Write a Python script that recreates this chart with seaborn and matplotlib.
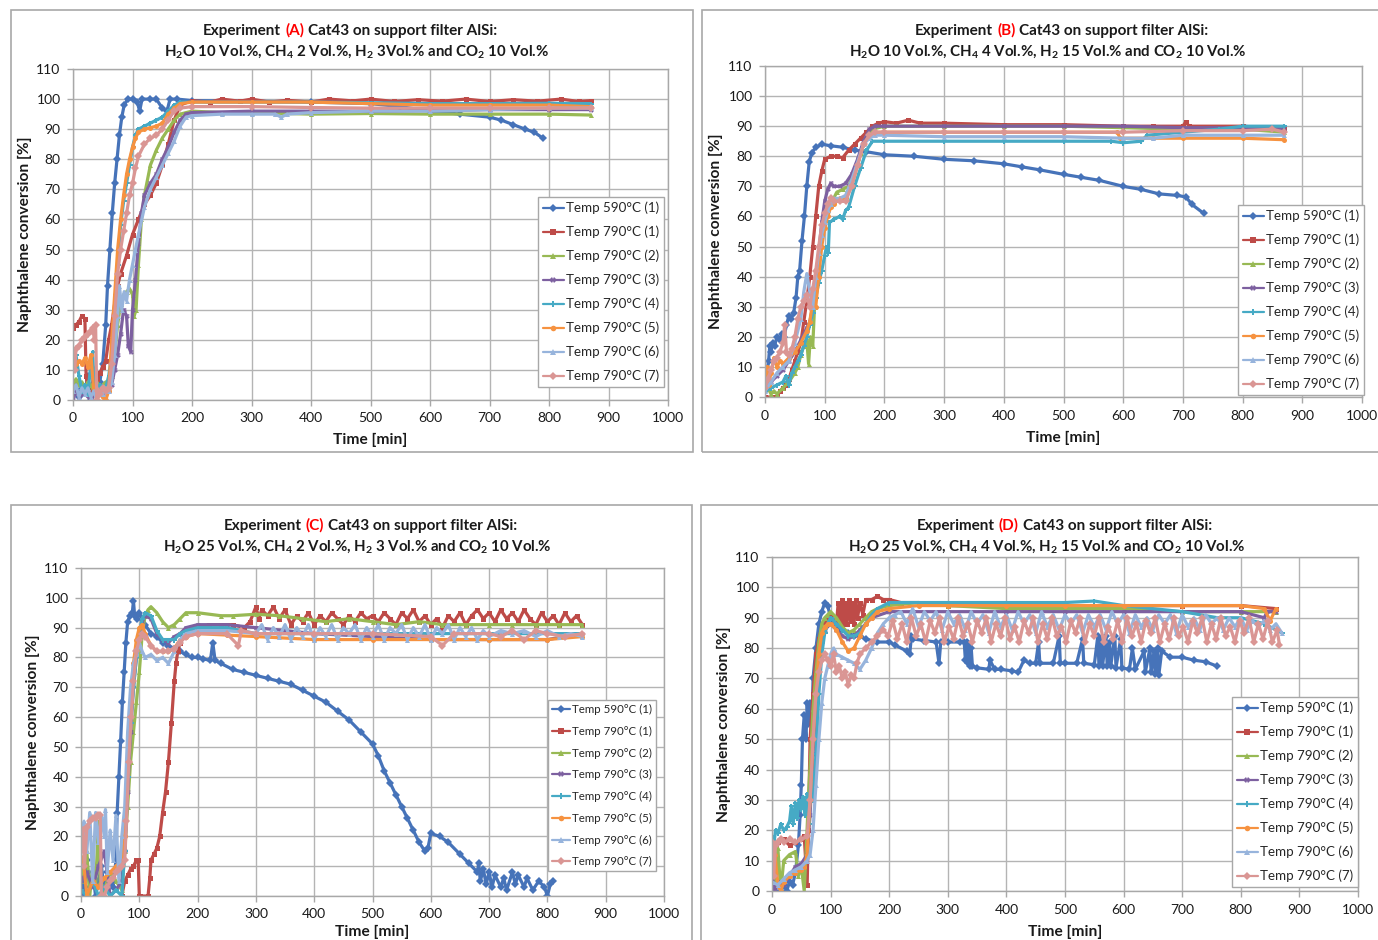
import pandas as pd
import seaborn as sns
import matplotlib.pyplot as plt
from matplotlib.lines import Line2D
from matplotlib.patches import Rectangle

W, H = 1378, 940

# values: (time [min], naphthalene conversion [%])

# ---- Experiment A ----
A_590_1 = [(0,2),(5,6),(10,1),(15,4),(20,3),(25,8),(30,0),(35,10),(40,2),(45,6),(50,12),(55,25),(58,38),(62,50),
           (66,62),(70,72),(74,80),(78,88),(82,94),(86,98),(92,100),(100,100),(108,99),(112,96),(116,100),(130,100),
           (140,100),(150,97),(158,96),(163,100),(175,100),(200,99.5),(300,99.3),(400,99),(500,98.5),(550,97.5),
           (600,96),(650,95),(700,94),(720,93),(740,91.5),(760,90),(775,89),(790,87)]
A_790_1 = [(0,24),(5,25),(10,26),(15,28),(20,27),(22,8),(25,4),(30,3),(35,5),(40,7),(45,9),(50,11),(55,13),(60,20),
           (65,25),(70,32),(75,38),(80,42),(90,48),(100,55),(110,60),(120,65),(130,68),(140,72),(150,78),(160,85),
           (170,93),(180,98),(200,99.5),(230,99),(250,100),(280,99.3),(300,100),(330,99),(360,99.6),(400,99),
           (430,100),(470,99.4),(500,100),(540,99.2),(580,99.8),(620,99.3),(660,100),(700,99.2),(740,99.8),
           (780,99.3),(820,100),(850,99.2),(870,99.5)]
A_790_2 = [(0,5),(5,7),(10,5),(15,6),(20,4),(25,6),(30,5),(35,3),(40,6),(45,4),(50,5),(55,6),(60,5),(65,8),(70,15),
           (75,25),(80,32),(85,35),(90,36),(95,37),(100,35),(103,28),(106,30),(110,45),(115,60),(120,68),(130,78),
           (140,83),(150,87),(160,90),(170,93),(180,95),(200,96),(250,95.5),(300,95.5),(400,95),(500,95.2),
           (600,95),(700,95),(800,95),(870,94.7)]
A_790_3 = [(0,0),(5,3),(10,1),(20,2),(30,0),(40,3),(50,2),(60,3),(65,5),(70,10),(75,15),(80,22),(85,30),(90,28),
           (93,18),(97,16),(100,30),(105,40),(110,52),(115,62),(120,68),(130,72),(140,75),(150,80),(160,84),
           (170,89),(180,93),(190,95),(200,95.5),(300,96),(400,96),(500,96),(600,96.2),(700,96.5),(800,96.5),
           (870,96.5)]
A_790_4 = [(0,13),(5,15),(10,8),(15,3),(20,5),(25,2),(30,12),(33,16),(36,3),(40,2),(45,5),(50,3),(55,4),(60,8),
           (65,15),(70,28),(75,45),(80,58),(85,66),(90,72),(95,78),(100,84),(105,88),(110,90),(120,91),(130,92),
           (140,93),(150,94),(160,96),(170,98),(180,99),(200,99),(300,99),(400,99),(500,98.8),(600,98.5),
           (700,98.5),(800,98.6),(870,98.5)]
A_790_5 = [(0,10),(5,12),(10,13),(15,12),(20,14),(25,11),(30,15),(35,3),(40,0),(45,2),(50,1),(55,0),(60,3),(65,20),
           (70,35),(75,50),(80,60),(85,68),(90,75),(95,80),(100,84),(105,87),(110,89),(120,90),(130,90.5),
           (140,91),(150,92),(160,95),(170,97),(180,98.5),(200,99),(300,99),(400,99),(500,98.5),(600,98),
           (700,98),(800,98),(870,97.5)]
A_790_6 = [(0,3),(5,5),(10,1),(15,4),(20,2),(25,4),(30,1),(35,3),(40,0),(45,3),(50,2),(55,4),(60,3),(65,6),(70,15),
           (75,28),(78,38),(82,30),(86,36),(90,33),(95,40),(100,45),(105,50),(110,55),(120,64),(130,70),(140,74),
           (150,78),(160,82),(170,86),(180,91),(190,94),(200,94.5),(250,95),(300,95),(340,95),(350,94),(360,95),
           (400,95.5),(500,96),(600,96),(700,96.5),(800,97),(870,97)]
A_790_7 = [(0,16),(3,10),(5,17),(10,18),(15,20),(20,21),(25,22),(30,23),(33,24),(36,20),(38,25),(40,0),(42,3),
           (45,2),(50,4),(55,3),(60,4),(65,12),(70,28),(75,42),(80,50),(85,56),(90,62),(95,68),(100,72),(105,77),
           (110,81),(120,85),(130,87),(140,88),(150,90),(160,93),(170,96),(180,97),(200,97.5),(300,97.5),
           (400,97.2),(500,97),(600,97),(700,97),(800,97),(870,97)]

# ---- Experiment B ----
B_590_1 = [(0,2),(3,8),(6,12),(8,17),(10,15),(13,18),(16,17),(20,20),(25,19),(28,21),(32,20),(36,24),(40,27),
           (44,26),(48,28),(52,33),(55,40),(58,42),(62,52),(66,60),(70,70),(74,78),(78,81),(85,83),(95,84),
           (110,83.5),(130,83),(150,82),(170,81.5),(200,80.5),(250,80),(300,79),(350,78.5),(400,77.5),(430,76.5),
           (460,75.5),(500,74),(530,73),(560,72),(600,70),(630,69),(660,67.5),(690,67),(705,66.5),(715,64),(735,61)]
B_790_1 = [(0,0),(15,0),(20,0),(25,2),(30,3),(35,4),(40,6),(45,9),(50,12),(55,15),(60,18),(65,25),(70,32),(75,40),
           (80,50),(85,60),(90,70),(95,75),(100,79),(110,80),(120,80),(130,79.5),(140,82),(150,84),(160,86),
           (170,88),(180,90),(190,91),(200,91.5),(220,91),(240,92),(260,91),(300,91),(400,90.5),(500,90.5),
           (600,90),(650,90),(700,90),(705,91.5),(710,90),(800,90),(870,89)]
B_790_2 = [(0,5),(5,3),(10,1),(15,2),(20,1),(30,3),(40,5),(50,8),(55,10),(60,14),(65,17),(70,19),(73,11),(76,20),
           (80,17),(83,30),(88,40),(92,48),(96,55),(100,59),(105,62),(110,64),(115,66),(120,68),(130,69),(140,70),
           (150,75),(160,81),(170,86),(180,89),(200,90),(300,90),(400,90),(500,90),(600,89.5),(700,89),(800,89),
           (870,88)]
B_790_3 = [(0,3),(10,5),(20,7),(30,9),(40,12),(50,15),(60,19),(70,23),(75,25),(80,30),(85,38),(90,48),(95,58),
           (100,65),(105,69),(110,71),(115,70),(125,70),(135,71),(145,74),(155,79),(165,85),(175,89),(185,90),
           (200,90),(300,90),(400,90),(500,90),(600,90),(700,89.5),(800,89.5),(870,89)]
B_790_4 = [(0,2),(10,3),(20,4),(30,5),(35,7),(40,4),(45,8),(50,10),(55,12),(60,14),(65,17),(70,20),(75,24),(80,28),
           (85,33),(90,38),(95,42),(100,47),(103,50),(106,48),(108,58),(115,59),(125,60),(130,59),(135,62),
           (140,63),(150,70),(160,76),(170,82),(180,85),(200,85),(300,85),(400,85),(500,85),(580,85),(600,84.5),
           (630,85),(640,87),(700,88),(760,89),(800,90),(870,90)]
B_790_5 = [(0,6),(3,10),(6,4),(10,8),(15,13),(20,10),(25,12),(30,11),(40,13),(50,15),(60,18),(70,22),(75,25),
           (80,32),(85,30),(90,40),(95,50),(100,56),(105,60),(110,63),(115,64),(125,66),(135,66),(145,70),
           (155,77),(165,84),(175,87),(185,88),(200,88),(300,88),(400,88),(500,88),(590,88),(595,86),(650,86),
           (700,86),(800,86),(870,85.5)]
B_790_6 = [(0,2),(10,5),(20,8),(30,10),(40,12),(50,18),(60,26),(65,35),(70,41),(75,35),(80,30),(85,40),(90,48),
           (95,54),(100,58),(105,62),(110,64),(115,66),(125,66),(135,67),(145,72),(155,78),(165,84),(175,86),
           (185,87),(200,87),(300,86.5),(400,86.5),(500,86.5),(600,86),(650,86),(700,87),(800,87),(870,87)]
B_790_7 = [(0,3),(5,6),(10,9),(15,12),(20,13),(25,15),(30,18),(33,24),(36,15),(40,14),(45,16),(50,20),(55,26),
           (60,30),(65,32),(70,34),(75,30),(80,36),(85,42),(90,50),(95,57),(100,61),(105,64),(110,66),(115,65),
           (125,65),(135,65),(145,70),(155,77),(165,84),(175,87),(185,88),(200,88),(300,88),(400,88),(500,88),
           (600,88),(700,88.5),(800,88.5),(850,89),(870,88)]

# ---- Experiment C ----
C_590_1 = [(0,8),(5,0),(10,12),(15,3),(20,8),(25,0),(30,5),(35,10),(40,2),(45,8),(50,5),(55,3),(60,12),(62,28),
           (65,40),(68,52),(71,65),(74,75),(77,85),(80,92),(84,94),(88,95),(90,99),(92,94),(96,93),(100,95),
           (105,93),(110,91),(120,88),(130,87),(140,85),(150,84),(160,83),(170,82),(180,81),(190,80),(200,80),
           (210,79.5),(222,79),(226,85),(230,79),(240,78),(260,76),(280,75),(300,74),(320,73),(340,72),(360,71),
           (380,69),(400,67),(420,65),(440,62),(460,59),(480,55),(500,51),(510,47),(520,42),(530,38),(540,34),
           (550,30),(560,26),(570,22),(580,18),(590,15),(595,16),(600,21),(615,20),(630,18),(650,14),(665,11),
           (680,8),(682,11),(685,5),(690,9),(695,4),(700,8),(705,3),(710,7),(720,3),(725,6),(730,2),(740,8),
           (745,4),(750,7),(760,3),(765,6),(775,2),(785,5),(795,3),(800,0),(805,4),(810,5)]
C_790_1 = [(70,0),(75,5),(80,7),(85,9),(90,10),(95,12),(98,12),(100,0),(102,0),(115,0),(118,6),(120,12),(125,14),
           (130,16),(135,20),(140,28),(145,35),(150,45),(155,58),(160,72),(163,78),(166,82),(170,85),(180,88),
           (190,90),(200,90),(220,91),(240,91),(260,91),(280,90),(290,92),(300,97),(305,93),(310,96),(320,94),
           (330,97),(340,93),(350,96),(360,91),(370,94),(380,92),(390,95),(400,91),(410,94),(420,92),(430,95),
           (440,93),(450,91),(460,94),(470,92),(480,95),(490,93),(500,94),(510,92),(520,95),(530,93),(540,91),
           (550,95),(560,93),(570,96),(580,92),(590,94),(600,91),(610,93),(620,90),(630,94),(640,92),(650,95),
           (660,91),(670,94),(680,96),(690,93),(700,95),(710,92),(720,96),(730,93),(740,95),(750,92),(760,96),
           (770,93),(780,91),(790,95),(800,92),(810,94),(820,91),(830,95),(840,92),(850,94),(860,91)]
C_790_2 = [(0,5),(10,15),(15,0),(20,10),(25,3),(30,25),(33,5),(40,2),(50,8),(60,5),(70,2),(75,15),(80,30),(85,45),
           (90,55),(95,65),(100,75),(105,88),(110,94),(115,96),(120,97),(130,95),(140,92),(150,90),(160,91),
           (170,93),(180,95),(200,95),(240,94),(260,94),(300,94.5),(340,94),(380,93),(420,92),(460,93),(500,92),
           (540,91),(580,92),(620,91),(660,91),(700,91),(740,91),(780,91),(820,91),(860,91)]
C_790_3 = [(0,5),(10,8),(20,3),(30,10),(40,15),(50,0),(60,2),(70,5),(75,15),(80,35),(85,55),(90,70),(95,80),
           (100,88),(105,92),(110,94),(120,93),(130,88),(140,86),(150,85),(160,87),(170,88),(180,90),(200,91),
           (250,91),(300,90),(400,88),(500,87),(600,86),(700,86),(800,86),(860,88)]
C_790_4 = [(0,2),(10,0),(20,5),(30,0),(40,3),(50,0),(60,2),(70,0),(75,15),(80,40),(85,58),(90,70),(95,80),
           (100,88),(105,93),(110,95),(120,94),(130,89),(140,86),(150,86),(160,86),(170,88),(180,89),(200,90),
           (250,90),(300,88),(400,88),(500,88),(600,88),(700,88),(800,88),(860,88)]
C_790_5 = [(0,13),(5,10),(10,0),(20,5),(30,3),(40,6),(50,8),(60,10),(70,12),(75,20),(80,45),(85,65),(90,78),
           (95,86),(100,90),(105,91),(110,88),(120,84),(130,82),(140,82),(150,82),(160,83),(170,86),(180,87),
           (200,88),(250,87.5),(300,87),(400,86),(500,86),(600,86),(700,86),(800,86),(860,87)]
C_790_6 = [(0,20),(5,25),(10,15),(15,28),(20,5),(25,28),(30,18),(35,27),(40,20),(42,29),(45,8),(50,22),(55,12),
           (60,27),(65,5),(70,20),(75,30),(80,55),(85,70),(90,78),(95,81),(100,85),(105,82),(110,80),(120,81),
           (130,79),(140,80),(150,78),(160,82),(170,86),(180,88),(200,89),(250,89),(300,88),(310,91),(320,86),
           (330,90),(340,87),(350,91),(360,86),(370,90),(380,87),(390,91),(400,86),(410,90),(420,87),(430,91),
           (440,86),(450,90),(460,88),(470,91),(480,86),(490,90),(500,87),(510,91),(520,86),(530,90),(540,88),
           (550,91),(560,86),(570,90),(580,87),(590,91),(600,86),(610,90),(620,88),(630,91),(640,86),(650,90),
           (660,87),(670,90),(680,86),(690,89),(700,87),(720,89),(740,88),(760,89),(780,87),(800,89),(820,87),
           (840,88),(860,87)]
C_790_7 = [(0,15),(3,22),(6,10),(10,23),(15,25),(20,26),(25,26),(30,27),(33,27),(35,0),(40,0),(45,3),(50,5),
           (55,6),(60,8),(65,9),(70,10),(75,12),(78,25),(82,45),(86,60),(90,72),(95,82),(100,86),(105,88),
           (110,87),(120,84),(130,82),(140,82),(150,82),(160,83),(170,85),(180,87),(200,88),(250,88),(270,84),
           (275,89),(300,88),(400,88),(500,88),(600,87),(620,84),(640,88),(700,88),(720,87),(740,89),(760,86),
           (780,89),(800,88),(830,87),(860,88)]

# ---- Experiment D ----
D_590_1 = [(0,5),(5,0),(10,3),(15,0),(20,2),(25,0),(30,3),(35,2),(40,6),(45,15),(48,25),(50,35),(52,50),(55,58),
           (58,50),(60,62),(62,55),(65,62),(68,50),(70,70),(75,80),(80,88),(85,92),(90,95),(95,94),(100,90),
           (105,88),(110,87),(120,86),(130,85),(140,84),(150,84),(160,83),(180,82),(200,82),(210,81),(230,79),
           (235,78),(238,84),(240,83),(260,82.5),(280,82),(285,75),(288,82),(300,82),(320,82),(328,82),(330,76),
           (332,82),(334,75),(336,81),(338,74),(340,80),(342,74),(350,73.5),(370,73),(372,76),(380,73),(390,73),
           (410,72.5),(420,72),(430,76),(440,75),(450,75),(455,82),(457,75),(480,75),(490,84),(492,75),(500,75),
           (520,75),(530,83),(532,75),(550,74.5),(556,84),(558,74),(562,83),(564,74),(570,84),(572,74),(576,82),
           (578,74),(585,84),(587,73.5),(595,83),(597,73.5),(610,73),(615,80),(620,73),(635,79),(637,72),(645,80),
           (647,72),(652,79),(654,71.5),(658,80),(660,71),(665,79),(680,77),(700,77),(720,76),(740,75.5),(760,74)]
D_790_1 = [(0,15),(5,10),(10,16),(20,17),(30,15),(40,16),(50,17),(55,18),(60,2),(62,20),(65,50),(70,65),(75,78),
           (80,83),(85,87),(90,88),(95,90),(100,91),(105,89),(110,88),(113,95),(116,88),(119,96),(122,88),
           (125,95),(128,88),(131,96),(134,89),(137,95),(140,88),(143,96),(146,90),(150,95),(155,91),(160,96),
           (170,96),(180,97),(190,96),(200,96),(220,95),(250,95),(300,94),(400,94),(500,94),(600,94),(700,94),
           (800,94),(860,93)]
D_790_2 = [(0,12),(5,3),(10,14),(15,0),(20,10),(30,12),(40,13),(45,5),(50,8),(55,0),(58,12),(62,30),(66,45),
           (70,60),(75,72),(80,82),(85,88),(90,90),(95,91),(100,92),(110,90),(120,87),(130,85),(140,86),(150,88),
           (160,90),(170,92),(180,93),(200,94),(250,95),(300,94),(400,93),(500,93),(600,93),(700,92),(800,92),
           (860,92)]
D_790_3 = [(0,5),(5,0),(10,3),(20,2),(30,5),(40,8),(50,9),(60,12),(65,25),(70,45),(75,62),(80,75),(85,82),
           (90,86),(100,88),(110,86),(120,84),(130,83),(140,84),(150,86),(160,88),(170,90),(200,92),(300,92),
           (400,92),(500,92),(600,92),(700,92),(800,92),(840,90),(845,92),(860,92)]
D_790_4 = [(0,18),(3,15),(6,20),(10,19),(15,22),(20,20),(25,21),(30,23),(33,28),(36,22),(40,29),(43,24),(46,30),
           (50,27),(53,31),(56,25),(60,32),(63,22),(66,36),(70,30),(75,45),(80,65),(85,78),(90,85),(95,88),
           (100,90),(110,88),(120,86),(130,84),(140,84),(150,85),(160,88),(170,91),(180,93),(200,95),(250,95),
           (300,95),(400,95),(500,95),(550,95.5),(600,94),(700,92),(760,90),(800,90),(840,88),(860,86),(870,85)]
D_790_5 = [(0,10),(5,12),(10,2),(15,0),(20,3),(30,5),(40,6),(50,7),(55,8),(60,12),(65,30),(70,50),(75,65),
           (80,78),(85,85),(90,87),(95,88),(100,88),(110,86),(120,82),(130,79),(140,80),(150,84),(160,88),
           (170,90),(180,92),(200,93),(250,94),(300,94),(400,94),(500,94),(600,94),(700,94),(800,94),(840,93),
           (850,89),(860,93)]
D_790_6 = [(0,3),(10,2),(20,4),(30,6),(40,7),(50,8),(60,10),(65,12),(70,20),(75,35),(80,50),(85,62),(90,70),
           (95,74),(100,78),(105,80),(110,78),(120,77),(130,76),(140,75),(150,73),(160,76),(170,80),(180,85),
           (190,88),(200,90),(210,91),(220,92),(230,88),(240,93),(250,87),(260,92),(270,89),(280,92),(290,86),
           (300,92),(310,88),(320,91),(330,86),(340,92),(350,88),(360,91),(370,85),(380,92),(390,87),(400,91),
           (410,86),(420,92),(430,88),(440,91),(450,85),(460,92),(470,87),(480,91),(490,86),(500,91),(510,88),
           (520,91),(530,85),(540,91),(550,87),(560,91),(570,86),(580,92),(590,88),(600,91),(610,85),(620,91),
           (630,87),(640,90),(650,86),(660,91),(670,88),(680,91),(690,85),(700,91),(710,87),(720,90),(730,86),
           (740,91),(750,88),(760,90),(770,86),(780,90),(790,87),(800,90),(810,86),(820,89),(830,87),(840,89),
           (850,86),(860,88),(870,85)]
D_790_7 = [(0,16),(3,5),(6,15),(10,16),(15,17),(20,16),(30,17),(40,16),(50,17),(60,18),(65,30),(70,50),(75,65),
           (80,72),(85,76),(90,78),(95,76),(100,74),(105,78),(110,72),(115,74),(120,70),(125,72),(130,68),
           (135,71),(140,70),(145,75),(150,78),(160,80),(170,82),(180,84),(190,86),(198,84),(206,89),(214,83),
           (222,88),(230,82),(238,90),(246,84),(254,88),(262,82),(270,89),(278,85),(286,90),(294,82),(302,87),
           (310,83),(318,90),(326,84),(334,88),(342,82),(350,89),(358,85),(366,90),(374,82),(382,88),(390,84),
           (398,90),(406,83),(414,87),(422,82),(430,89),(438,85),(446,90),(454,82),(462,88),(470,83),(478,90),
           (486,84),(494,87),(502,82),(510,89),(518,85),(526,90),(534,82),(542,88),(550,84),(558,90),(566,82),
           (574,87),(582,83),(590,89),(598,82),(606,90),(614,84),(622,88),(630,82),(638,89),(646,85),(654,90),
           (662,82),(670,88),(678,83),(686,90),(694,84),(702,87),(710,82),(718,89),(726,85),(734,90),(742,82),
           (750,88),(758,83),(766,90),(774,84),(782,87),(790,82),(798,89),(806,85),(814,90),(822,82),(830,88),
           (838,83),(846,89),(854,82),(862,86),(866,81)]

labels = ["Temp 590°C (1)", "Temp 790°C (1)", "Temp 790°C (2)", "Temp 790°C (3)",
          "Temp 790°C (4)", "Temp 790°C (5)", "Temp 790°C (6)", "Temp 790°C (7)"]
letters = ["A", "B", "C", "D"]
subtitles = [
    r"H$_\mathbf{2}$O 10 Vol.%, CH$_\mathbf{4}$ 2 Vol.%, H$_\mathbf{2}$ 3Vol.% and CO$_\mathbf{2}$ 10 Vol.%",
    r"H$_\mathbf{2}$O 10 Vol.%, CH$_\mathbf{4}$ 4 Vol.%, H$_\mathbf{2}$ 15 Vol.% and CO$_\mathbf{2}$ 10 Vol.%",
    r"H$_\mathbf{2}$O 25 Vol.%, CH$_\mathbf{4}$ 2 Vol.%, H$_\mathbf{2}$ 3 Vol.% and CO$_\mathbf{2}$ 10 Vol.%",
    r"H$_\mathbf{2}$O 25 Vol.%, CH$_\mathbf{4}$ 4 Vol.%, H$_\mathbf{2}$ 15 Vol.% and CO$_\mathbf{2}$ 10 Vol.%",
]
x_ticks = list(range(0, 1001, 100))
y_ticks = list(range(0, 111, 10))

panels = [
    [A_590_1, A_790_1, A_790_2, A_790_3, A_790_4, A_790_5, A_790_6, A_790_7],
    [B_590_1, B_790_1, B_790_2, B_790_3, B_790_4, B_790_5, B_790_6, B_790_7],
    [C_590_1, C_790_1, C_790_2, C_790_3, C_790_4, C_790_5, C_790_6, C_790_7],
    [D_590_1, D_790_1, D_790_2, D_790_3, D_790_4, D_790_5, D_790_6, D_790_7],
]

# styling / layout (pixels in the 1378x940 canvas)
colors = ["#4673B9", "#BE4B48", "#98B954", "#7D60A0", "#46AAC5", "#F69240", "#97B4DC", "#DA9694"]
marks = ["D", "s", "^", "X", "P", "o", "^", "D"]
axes_px = [(73, 69, 668, 400), (765, 66, 1362, 397), (81, 568, 664, 896), (772, 557, 1358, 891)]
frames_px = [(11, 10, 693, 452), (702, 10, 1395, 452), (11, 505, 692, 955), (701, 505, 1395, 955)]
title1_px = [(203, 35), (915, 35), (224, 530), (917, 530)]
title2_px = [(357, 56), (1048, 56), (357, 551), (1047, 551)]
legend_px = [(538, 197, 9.6, 0.86), (1238, 205, 9.6, 0.86), (548, 700, 8.3, 0.93), (1232, 697, 9.6, 0.86)]
ylabel_x = [25, 716, 33, 724]
xlabel_y = [440, 438, 932, 932]

sns.set_theme(style="white")
plt.rcParams['font.family'] = ['Lato', 'DejaVu Sans']
plt.rcParams['mathtext.fontset'] = 'custom'
plt.rcParams['mathtext.rm'] = 'Lato'
plt.rcParams['mathtext.bf'] = 'Lato:bold'
plt.rcParams['mathtext.it'] = 'Lato:italic'

fig = plt.figure(figsize=(W / 100, H / 100), dpi=100)
fig.patch.set_facecolor("white")

for k, series in enumerate(panels):
    x0, y0, x1, y1 = axes_px[k]
    ax = fig.add_axes([x0 / W, 1 - y1 / H, (x1 - x0) / W, (y1 - y0) / H])

    rows = [(lab, t, v) for lab, pts in zip(labels, series) for t, v in pts]
    df = pd.DataFrame(rows, columns=["series", "time", "conv"])
    sns.lineplot(data=df, x="time", y="conv", hue="series", style="series",
                 hue_order=labels, style_order=labels, palette=colors, markers=marks,
                 dashes=False, estimator=None, sort=False, linewidth=2.3,
                 markersize=3.6, markeredgewidth=0, legend=False, ax=ax)

    ax.set_xlim(0, 1000)
    ax.set_ylim(0, 110)
    ax.set_xticks(x_ticks)
    ax.set_yticks(y_ticks)
    ax.grid(True, color="#B4B4B4", linewidth=1)
    ax.set_axisbelow(True)
    for s in ax.spines.values():
        s.set_color("#A8A8A8")
        s.set_linewidth(1)
    ax.tick_params(axis="both", labelsize=10, colors="#A8A8A8", labelcolor="#1a1a1a",
                   length=4, width=1, pad=5, direction="out", bottom=True, left=True)

    ax.set_xlabel("Time [min]", fontsize=11.2, fontweight="bold", color="#1a1a1a")
    ax.set_ylabel("Naphthalene conversion [%]", fontsize=11.2, fontweight="bold", color="#1a1a1a")
    ax.xaxis.set_label_coords(0.5, (y1 - xlabel_y[k]) / (y1 - y0))
    ax.xaxis.label.set_va("center")
    ax.yaxis.set_label_coords((ylabel_x[k] - x0) / (x1 - x0), 0.5)
    ax.yaxis.label.set_va("center")

    lx, ly, lsize, lspace = legend_px[k]
    handles = [Line2D([], [], color=c, marker=m, lw=1.6, ms=4, mew=0) for c, m in zip(colors, marks)]
    leg = ax.legend(handles, labels, loc="upper left", bbox_to_anchor=(lx / W, 1 - ly / H),
                    bbox_transform=fig.transFigure, borderaxespad=0, fontsize=lsize,
                    labelspacing=lspace, handlelength=1.6, handletextpad=0.15,
                    borderpad=0.35, fancybox=False, framealpha=1, edgecolor="#A8A8A8")
    leg.get_frame().set_linewidth(1)

    fx0, fy0, fx1, fy1 = frames_px[k]
    fig.add_artist(Rectangle((fx0 / W, 1 - fy1 / H), (fx1 - fx0) / W, (fy1 - fy0) / H,
                             transform=fig.transFigure, fill=False, edgecolor="#A8A8A8", lw=1.2))

    cx, cy = title2_px[k]
    fig.text(cx / W, 1 - cy / H, subtitles[k], ha="center", va="baseline",
             fontsize=10.8, fontweight="bold", color="#1a1a1a")

# first title line has a red experiment letter, so it is laid out piece by piece
renderer = fig.canvas.get_renderer()
for k, L in enumerate(letters):
    x, y = title1_px[k]
    for txt, col in [("Experiment", "#1a1a1a"), (f"({L})", "#FF0000"), ("Cat43 on support filter AlSi:", "#1a1a1a")]:
        t = fig.text(x / W, 1 - y / H, txt, ha="left", va="baseline", fontsize=11,
                     fontweight="bold", color=col)
        x = t.get_window_extent(renderer).x1 + 4

fig.savefig("out.png", dpi=100)
